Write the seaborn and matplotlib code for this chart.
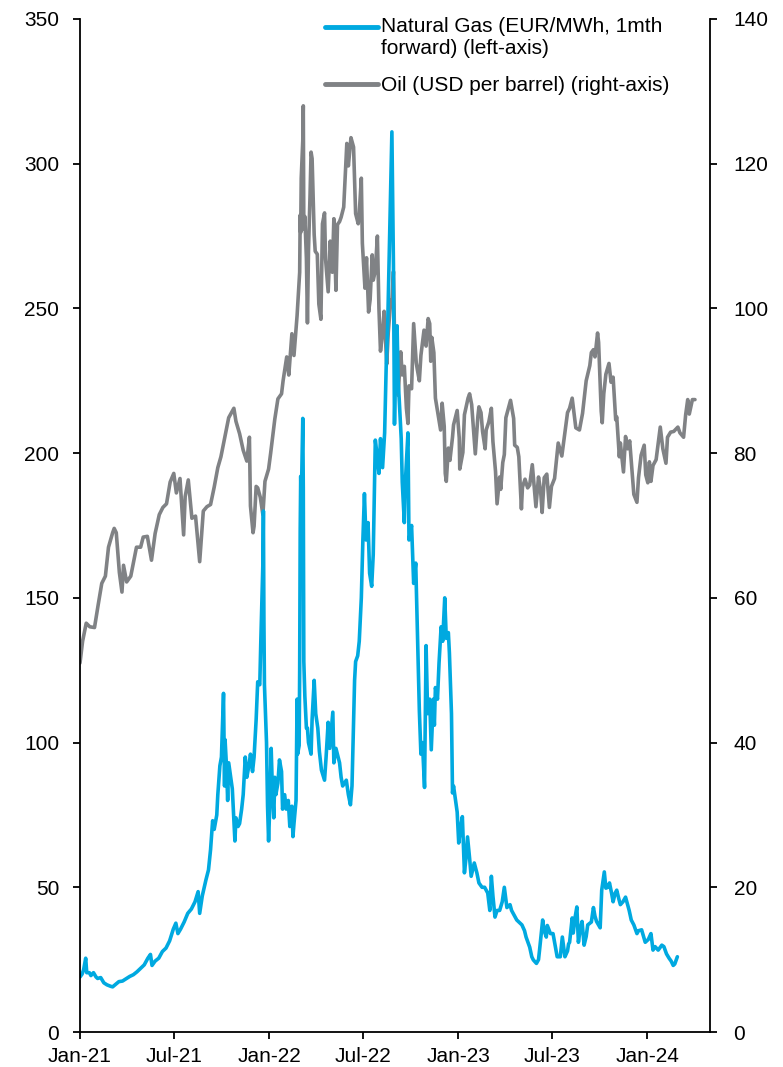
import matplotlib
matplotlib.use("Agg")
import matplotlib.pyplot as plt
import matplotlib.dates as mdates
from matplotlib.legend_handler import HandlerLine2D
import numpy as np
import pandas as pd
import seaborn as sns

# ---------------- data ----------------
gas_dates = [
    "2021-01-01","2021-01-05","2021-01-08","2021-01-12","2021-01-14","2021-01-19","2021-01-22","2021-01-27",
    "2021-02-01","2021-02-04","2021-02-10","2021-02-16","2021-02-22","2021-03-01","2021-03-05","2021-03-11",
    "2021-03-17","2021-03-24","2021-03-31","2021-04-07","2021-04-14","2021-04-21","2021-04-28","2021-05-05",
    "2021-05-12","2021-05-17","2021-05-20","2021-05-26","2021-06-02","2021-06-09","2021-06-16","2021-06-23",
    "2021-06-30","2021-07-05","2021-07-09","2021-07-14","2021-07-21","2021-07-28","2021-08-04","2021-08-11",
    "2021-08-17","2021-08-20","2021-08-25","2021-09-01","2021-09-06","2021-09-10","2021-09-14","2021-09-17",
    "2021-09-22","2021-09-24","2021-09-28","2021-10-01","2021-10-05","2021-10-07","2021-10-08","2021-10-11",
    "2021-10-13","2021-10-15","2021-10-19","2021-10-22","2021-10-27","2021-10-29","2021-11-02","2021-11-05",
    "2021-11-09","2021-11-12","2021-11-16","2021-11-19","2021-11-23","2021-11-26","2021-11-30","2021-12-03",
    "2021-12-07","2021-12-10","2021-12-14","2021-12-16","2021-12-20","2021-12-21","2021-12-22","2021-12-23",
    "2021-12-27","2021-12-29","2021-12-31",
    "2022-01-03","2022-01-05","2022-01-07","2022-01-10","2022-01-12","2022-01-14","2022-01-18","2022-01-21",
    "2022-01-25","2022-01-27","2022-01-31","2022-02-03","2022-02-07","2022-02-10","2022-02-14","2022-02-16",
    "2022-02-18","2022-02-22","2022-02-24","2022-02-25","2022-02-28","2022-03-01","2022-03-02","2022-03-03",
    "2022-03-04","2022-03-07","2022-03-08","2022-03-09","2022-03-11","2022-03-14","2022-03-16","2022-03-18",
    "2022-03-23","2022-03-25","2022-03-29","2022-04-01","2022-04-05","2022-04-08","2022-04-12","2022-04-18",
    "2022-04-21","2022-04-25","2022-04-28","2022-05-04","2022-05-06","2022-05-10","2022-05-17","2022-05-20",
    "2022-05-23","2022-05-30","2022-06-03","2022-06-07","2022-06-10","2022-06-15","2022-06-17","2022-06-21",
    "2022-06-24","2022-06-28","2022-07-01","2022-07-04","2022-07-07","2022-07-11","2022-07-14","2022-07-18",
    "2022-07-21","2022-07-25","2022-07-28","2022-08-01","2022-08-04","2022-08-08","2022-08-12","2022-08-15",
    "2022-08-18","2022-08-22","2022-08-24","2022-08-26","2022-08-29","2022-08-31","2022-09-02","2022-09-05",
    "2022-09-07","2022-09-09","2022-09-13","2022-09-15","2022-09-19","2022-09-21","2022-09-26","2022-09-28",
    "2022-10-03","2022-10-07","2022-10-11","2022-10-14","2022-10-18","2022-10-21","2022-10-24","2022-10-28",
    "2022-10-31","2022-11-03","2022-11-07","2022-11-10","2022-11-14","2022-11-16","2022-11-18","2022-11-22",
    "2022-11-25","2022-11-29","2022-12-02","2022-12-06","2022-12-08","2022-12-09","2022-12-13","2022-12-15",
    "2022-12-19","2022-12-21","2022-12-23","2022-12-27","2022-12-30",
    "2023-01-02","2023-01-05","2023-01-09","2023-01-13","2023-01-16","2023-01-19","2023-01-23","2023-01-26",
    "2023-02-01","2023-02-06","2023-02-10","2023-02-16","2023-02-21","2023-02-27","2023-03-03","2023-03-06",
    "2023-03-09","2023-03-13","2023-03-17","2023-03-22","2023-03-27","2023-03-31","2023-04-05","2023-04-11",
    "2023-04-14","2023-04-20","2023-04-24","2023-05-04","2023-05-09","2023-05-12","2023-05-19","2023-05-23",
    "2023-05-26","2023-06-01","2023-06-05","2023-06-07","2023-06-13","2023-06-16","2023-06-20","2023-06-22",
    "2023-06-28","2023-07-03","2023-07-07","2023-07-11","2023-07-17","2023-07-21","2023-07-26","2023-07-31",
    "2023-08-02","2023-08-04","2023-08-09","2023-08-11","2023-08-15","2023-08-18","2023-08-21","2023-08-24",
    "2023-08-28","2023-09-01","2023-09-05","2023-09-08","2023-09-15","2023-09-19","2023-09-22","2023-09-25",
    "2023-10-02","2023-10-05","2023-10-10","2023-10-13","2023-10-17","2023-10-20","2023-10-24","2023-10-27",
    "2023-10-31","2023-11-03","2023-11-07","2023-11-10","2023-11-15","2023-11-20","2023-11-24","2023-11-27",
    "2023-12-01","2023-12-06","2023-12-12","2023-12-15","2023-12-21","2023-12-28",
    "2024-01-03","2024-01-08","2024-01-12","2024-01-16","2024-01-22","2024-01-29","2024-02-02","2024-02-07",
    "2024-02-12","2024-02-16","2024-02-20","2024-02-23","2024-02-28",
]
gas_values = [
    19, 20, 21.5, 25.5, 20.5, 20.5, 19.5, 20.5,
    19, 18.5, 18.8, 17, 16.3, 15.8, 15.6, 16.5,
    17.4, 17.6, 18.4, 19.2, 19.8, 20.8, 22, 23.2,
    25.5, 26.8, 23, 24.5, 25.5, 27.8, 29, 31.5,
    35.5, 37.6, 34, 35.5, 38, 41, 42.5, 45,
    48.5, 41, 47, 52.5, 56, 63, 73, 70,
    75, 82, 92, 95, 117, 85, 101, 91,
    80, 93, 88, 84, 66, 74, 71, 72,
    77, 82, 95, 88, 92, 96, 90, 95,
    108, 121, 120, 135, 162, 180, 142, 120,
    100, 78, 66,
    82, 98, 86, 74, 88, 82, 86, 94,
    90, 77, 82, 77, 80, 71, 78, 67.5,
    72, 80, 115, 96, 99, 125, 173, 192,
    182, 212, 188, 128, 116, 105, 105, 100,
    96, 108, 121.5, 110, 105, 97, 90.5, 87,
    95, 107, 98, 110.5, 93, 98, 93, 88,
    85, 87, 82, 78.5, 85, 121.5, 128, 130,
    135, 150, 170, 186, 170, 176, 158.5, 154,
    165, 204.5, 200, 193, 205, 195, 207, 230,
    245, 278, 295, 311, 265, 210, 230, 244,
    225, 219, 205, 190, 176, 190, 207, 170,
    175, 155, 162, 140, 111, 96, 100, 84.5,
    133.5, 110, 115, 97.5, 115, 106, 119, 115,
    127.5, 140, 135, 150, 140, 136, 138, 131,
    110, 82.6, 85, 80, 76,
    65.3, 70, 74.4, 55, 60, 67.4, 60, 53.8,
    58.4, 55, 51.5, 50, 50, 48, 42, 53.8,
    47, 39.7, 42, 42, 45, 50, 43, 44,
    42, 40, 38.7, 37, 35, 32.8, 29.3, 26,
    24.9, 23.7, 25, 28.3, 38.7, 35, 32.8, 36.8,
    34, 34, 30, 26, 26, 32.8, 26, 28,
    30.4, 31, 39.4, 34.2, 40, 43.2, 31, 35,
    38.2, 30, 33, 37, 38, 43, 40, 38.2,
    36, 49, 55.3, 49.7, 50, 51.5, 48, 45,
    48, 49, 46, 44, 45, 46.6, 44, 42,
    38.7, 37, 34, 35, 35.3, 31,
    32, 34, 28.3, 29.5, 28.3, 30, 29.5, 27,
    25.5, 24.5, 23, 23.5, 26,
]

oil_dates = [
    "2021-01-01","2021-01-06","2021-01-13","2021-01-20","2021-01-29","2021-02-05","2021-02-12","2021-02-19",
    "2021-02-25","2021-03-05","2021-03-08","2021-03-12","2021-03-18","2021-03-23","2021-03-26","2021-04-01",
    "2021-04-09","2021-04-20","2021-04-28","2021-05-03","2021-05-11","2021-05-19","2021-05-26","2021-06-03",
    "2021-06-10","2021-06-17","2021-06-24","2021-07-01","2021-07-06","2021-07-13","2021-07-20","2021-07-23",
    "2021-07-29","2021-08-05","2021-08-12","2021-08-20","2021-08-27","2021-09-03","2021-09-10","2021-09-17",
    "2021-09-24","2021-09-30","2021-10-08","2021-10-15","2021-10-25","2021-10-29","2021-11-05","2021-11-12",
    "2021-11-19","2021-11-24","2021-11-26","2021-12-01","2021-12-03","2021-12-07","2021-12-10","2021-12-15",
    "2021-12-20","2021-12-24","2021-12-31",
    "2022-01-04","2022-01-07","2022-01-12","2022-01-18","2022-01-25","2022-01-28","2022-02-04","2022-02-08",
    "2022-02-14","2022-02-18","2022-02-24","2022-03-01","2022-03-02","2022-03-03","2022-03-04","2022-03-07",
    "2022-03-08","2022-03-09","2022-03-11","2022-03-14","2022-03-16","2022-03-18","2022-03-21","2022-03-23",
    "2022-03-25","2022-03-29","2022-03-31","2022-04-04","2022-04-07","2022-04-11","2022-04-14","2022-04-18",
    "2022-04-20","2022-04-25","2022-04-29","2022-05-03","2022-05-06","2022-05-10","2022-05-13","2022-05-17",
    "2022-05-20","2022-05-25","2022-05-31","2022-06-03","2022-06-08","2022-06-13","2022-06-17","2022-06-22",
    "2022-06-24","2022-06-28","2022-06-30","2022-07-05","2022-07-08","2022-07-12","2022-07-15","2022-07-19",
    "2022-07-21","2022-07-25","2022-07-29","2022-08-01","2022-08-04","2022-08-08","2022-08-11","2022-08-16",
    "2022-08-19","2022-08-24","2022-08-26","2022-08-29","2022-09-01","2022-09-05","2022-09-07","2022-09-12",
    "2022-09-15","2022-09-19","2022-09-23","2022-09-26","2022-09-28","2022-10-03","2022-10-07","2022-10-12",
    "2022-10-14","2022-10-18","2022-10-21","2022-10-27","2022-10-31","2022-11-04","2022-11-07","2022-11-09",
    "2022-11-11","2022-11-15","2022-11-18","2022-11-23","2022-11-28","2022-12-01","2022-12-05","2022-12-07",
    "2022-12-09","2022-12-13","2022-12-16","2022-12-21","2022-12-23","2022-12-30",
    "2023-01-03","2023-01-04","2023-01-10","2023-01-13","2023-01-20","2023-01-23","2023-01-27","2023-02-03",
    "2023-02-08","2023-02-10","2023-02-14","2023-02-17","2023-02-22","2023-02-24","2023-03-01","2023-03-06",
    "2023-03-09","2023-03-14","2023-03-17","2023-03-22","2023-03-24","2023-03-28","2023-03-31","2023-04-03",
    "2023-04-12","2023-04-18","2023-04-20","2023-04-25","2023-04-28","2023-05-03","2023-05-05","2023-05-10",
    "2023-05-15","2023-05-19","2023-05-24","2023-05-31","2023-06-05","2023-06-09","2023-06-12","2023-06-16",
    "2023-06-21","2023-06-26","2023-06-30","2023-07-06","2023-07-13","2023-07-20","2023-07-26","2023-07-31",
    "2023-08-04","2023-08-09","2023-08-16","2023-08-23","2023-08-29","2023-09-05","2023-09-12","2023-09-15",
    "2023-09-19","2023-09-22","2023-09-27","2023-09-29","2023-10-04","2023-10-06","2023-10-09","2023-10-13",
    "2023-10-19","2023-10-23","2023-10-27","2023-11-01","2023-11-03","2023-11-08","2023-11-10","2023-11-16",
    "2023-11-20","2023-11-24","2023-11-28","2023-12-01","2023-12-06","2023-12-12","2023-12-15","2023-12-20",
    "2023-12-26","2023-12-29",
    "2024-01-02","2024-01-05","2024-01-08","2024-01-12","2024-01-18","2024-01-26","2024-01-31","2024-02-06",
    "2024-02-09","2024-02-15","2024-02-21","2024-02-29","2024-03-04","2024-03-11","2024-03-15","2024-03-19",
    "2024-03-22","2024-03-28","2024-04-02",
]
oil_values = [
    51, 54, 56.5, 56, 55.9, 59, 62, 63,
    67, 69, 69.6, 69, 63.5, 60.8, 64.5, 62.2,
    63, 67, 67, 68.4, 68.5, 65.2, 68.9, 71.5,
    72.5, 73, 76, 77.2, 74.5, 76.5, 68.7, 74,
    76.3, 71, 71.3, 65, 72, 72.6, 72.9, 75.3,
    78, 79.5, 82.4, 84.9, 86.2, 84.4, 82.7, 80.4,
    78.9, 82.2, 72.7, 69, 69.9, 75.4, 75.2, 73.9,
    71.5, 76.1, 77.8,
    80, 81.8, 84.7, 87.5, 88.2, 90, 93.3, 90.8,
    96.5, 93.5, 99, 105, 112.9, 110.5, 118, 123.2,
    128, 111, 112.7, 106.9, 98, 108, 115.6, 121.6,
    120.7, 110.2, 107.9, 107.5, 100.6, 98.5, 111.7, 113.2,
    106.8, 102.3, 109.3, 105, 112.4, 102.5, 111.6, 112,
    112.6, 114, 122.8, 119.7, 123.6, 122.3, 113.1, 111.7,
    113.1, 118, 109, 102.8, 107, 99.5, 101.2, 107.4,
    103.9, 105.2, 110, 100, 94.1, 96.7, 99.6, 92.3,
    96.7, 101.2, 101, 105.1, 92.4, 95.7, 88, 94,
    90.8, 92, 86.2, 84.1, 89.3, 88.9, 97.9, 92.5,
    91.6, 90, 93.5, 97, 94.8, 98.6, 97.9, 92.7,
    96, 93.9, 87.6, 85.4, 83.2, 86.9, 83.7, 77.2,
    76.1, 80.7, 79, 82.2, 83.9, 85.9,
    82.1, 77.8, 80.1, 85.3, 87.6, 88.2, 86.7, 79.9,
    85.1, 86.4, 85.6, 83, 80.6, 83.2, 84.3, 86.2,
    81.6, 77.5, 73, 76.7, 75, 78.7, 79.8, 84.9,
    87.3, 84.8, 81.1, 80.8, 79.5, 72.3, 75.3, 76.4,
    75.2, 75.6, 78.4, 72.6, 76.7, 74.8, 71.8, 76.6,
    77.1, 72.5, 75.4, 76.5, 81.4, 79.6, 82.9, 85.6,
    86.2, 87.6, 83.5, 83.2, 85.5, 90, 92.1, 93.9,
    94.3, 93.3, 96.6, 95.3, 85.8, 84.2, 88.2, 90.9,
    92.4, 89.8, 90.5, 84.6, 85, 79.5, 81.4, 77.4,
    82.3, 80.6, 81.7, 78.9, 74.3, 73.2, 76.6, 79.7,
    81.1, 77,
    75.9, 78.8, 76.1, 78.3, 79.1, 83.6, 80.6, 78.6,
    82.2, 82.9, 83, 83.6, 82.8, 82.2, 85.3, 87.4,
    85.4, 87.4, 87.4,
]

gas_label = "Natural Gas (EUR/MWh, 1mth\nforward) (left-axis)"
oil_label = "Oil (USD per barrel) (right-axis)"
left_ticks = [0, 50, 100, 150, 200, 250, 300, 350]
right_ticks = [0, 20, 40, 60, 80, 100, 120, 140]
x_ticks = ["2021-01-01", "2021-07-01", "2022-01-01", "2022-07-01",
           "2023-01-01", "2023-07-01", "2024-01-01"]
x_range = ["2021-01-01", "2024-05-01"]

gas_color = "#00A9E0"
oil_color = "#808285"


class FirstLineHandler(HandlerLine2D):
    """Place the legend line level with the first line of a two-line label."""
    def __init__(self, shift=0.0, **kw):
        super().__init__(**kw)
        self.shift = shift

    def create_artists(self, legend, orig_handle, xdescent, ydescent,
                       width, height, fontsize, trans):
        arts = super().create_artists(legend, orig_handle, xdescent, ydescent,
                                      width, height, fontsize, trans)
        for a in arts:
            a.set_ydata(np.asarray(a.get_ydata(), dtype=float) + self.shift)
        return arts


# ---------------- plot ----------------
sns.set_style("ticks")
plt.rcParams["font.family"] = ["Liberation Sans", "DejaVu Sans"]
plt.rcParams["font.size"] = 15
plt.rcParams["text.color"] = "black"
plt.rcParams["xtick.color"] = "black"
plt.rcParams["ytick.color"] = "black"

gas_df = pd.DataFrame({"date": pd.to_datetime(gas_dates), "value": gas_values})
oil_df = pd.DataFrame({"date": pd.to_datetime(oil_dates), "value": oil_values})

fig = plt.figure(figsize=(7.83, 10.67), dpi=100)
ax = fig.add_axes([80 / 783, 1 - 1032 / 1067, (710 - 80) / 783, (1032 - 19) / 1067])
ax2 = ax.twinx()

sns.lineplot(data=oil_df, x="date", y="value", ax=ax2, color=oil_color,
             linewidth=2.6, label=oil_label, legend=False)
sns.lineplot(data=gas_df, x="date", y="value", ax=ax, color=gas_color,
             linewidth=2.6, label=gas_label, legend=False)
ax.set_zorder(2)
ax.patch.set_visible(False)

ax.set_ylim(0, 350)
ax2.set_ylim(0, 140)
ax.set_yticks(left_ticks)
ax2.set_yticks(right_ticks)
ax.set_xlim(pd.to_datetime(x_range[0]), pd.to_datetime(x_range[1]))
ax.set_xticks(pd.to_datetime(x_ticks))
ax.xaxis.set_major_formatter(mdates.DateFormatter("%b-%y"))
ax.set_xlabel("")
ax.set_ylabel("")
ax2.set_ylabel("")

for a in (ax, ax2):
    a.spines["top"].set_visible(False)
    for s in ("left", "right", "bottom"):
        a.spines[s].set_color("black")
        a.spines[s].set_linewidth(1.3)
ax.spines["right"].set_visible(False)
ax2.spines["left"].set_visible(False)
ax2.spines["bottom"].set_visible(False)

ax.tick_params(axis="y", direction="out", length=5, width=1.3, pad=10, labelsize=15, colors="black")
ax.tick_params(axis="x", direction="out", length=5, width=1.3, pad=6, labelsize=15, colors="black")
ax2.tick_params(axis="y", direction="out", length=5, width=1.3, pad=12, labelsize=15, colors="black")

h1, l1 = ax.get_legend_handles_labels()
h2, l2 = ax2.get_legend_handles_labels()
leg = fig.legend(h1 + h2, l1 + l2, loc="upper left",
                 bbox_to_anchor=(315 / 783, 1 - 7 / 1067),
                 frameon=False, fontsize=15, borderpad=0, handlelength=2.5,
                 handletextpad=0.15, labelspacing=0.85,
                 handler_map={h1[0]: FirstLineHandler(shift=8.0)})
for t in leg.get_texts():
    t.set_color("black")
for ln in leg.get_lines():
    ln.set_linewidth(3.5)

fig.savefig("out.png", dpi=100)
